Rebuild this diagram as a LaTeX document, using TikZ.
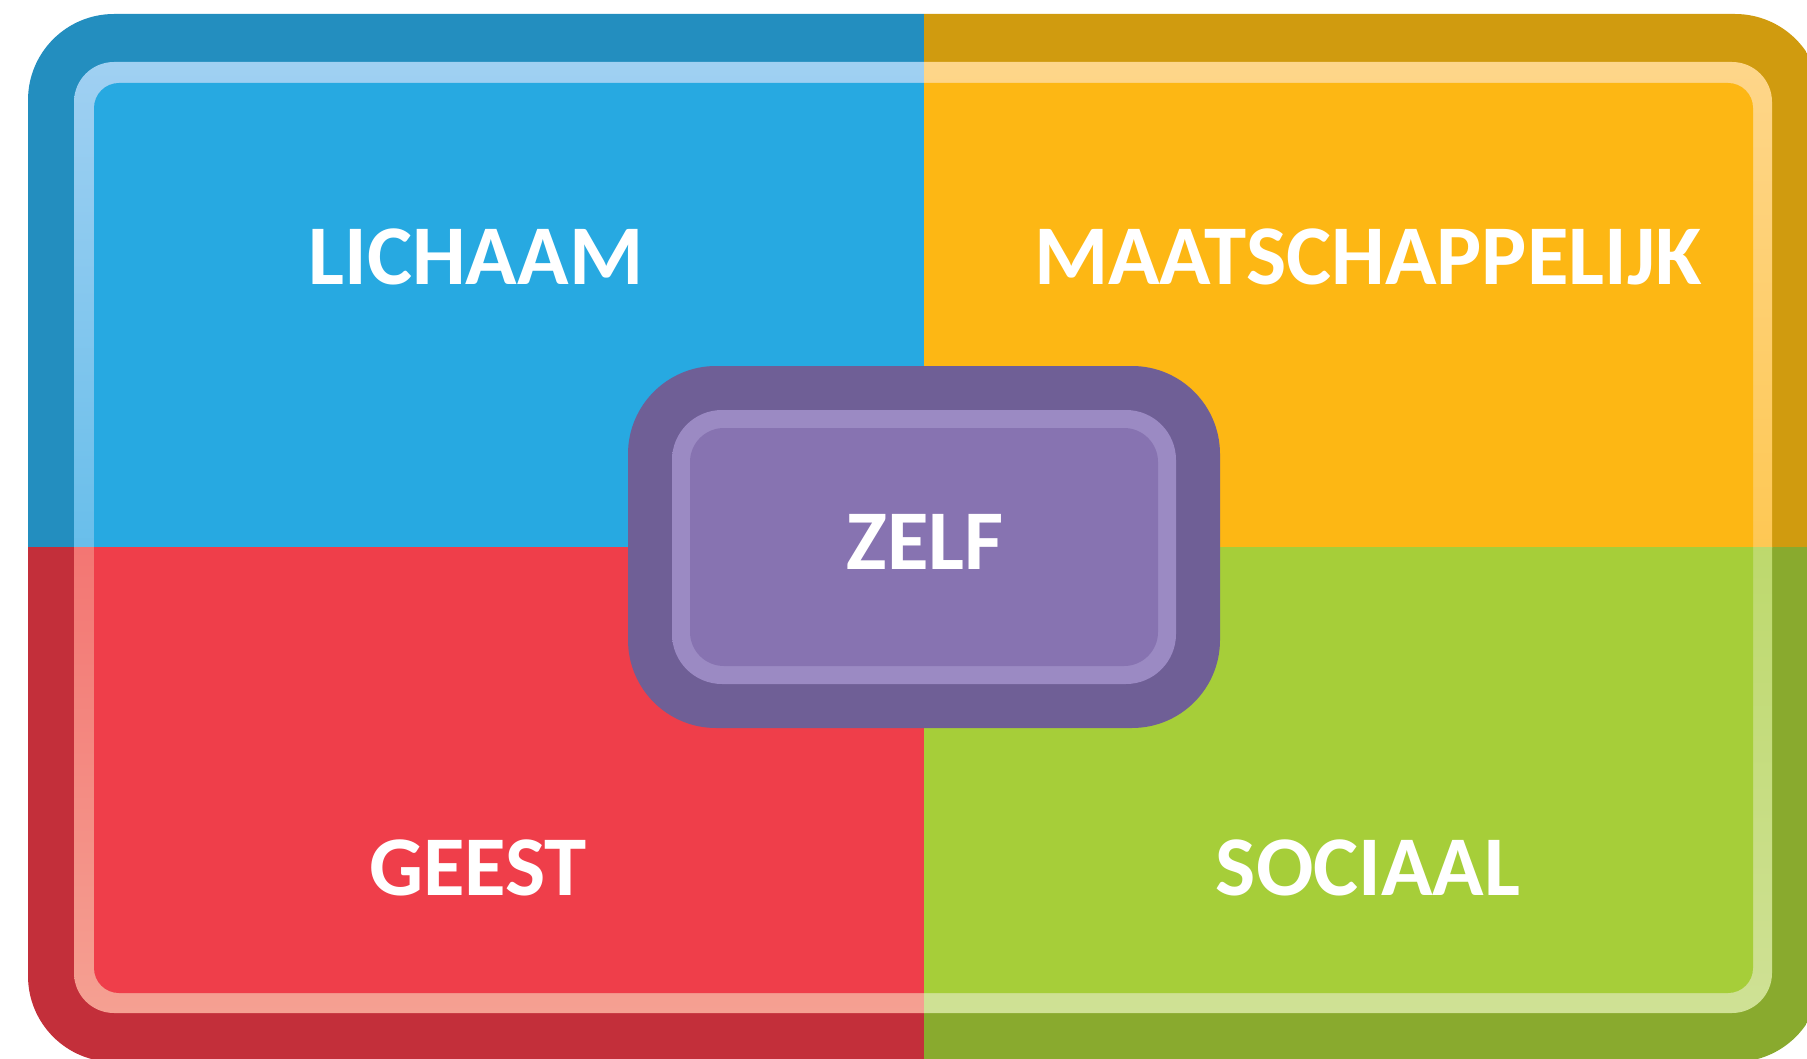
\documentclass[tikz,border=0pt]{standalone}
\usepackage{fontspec}
\setmainfont{Carlito}
\definecolor{bluebase}{HTML}{27A9E1}
\definecolor{bluedark}{HTML}{238EBF}
\definecolor{bluelight}{HTML}{A0D0F2}
\definecolor{bluemid}{HTML}{33ADE3}
\definecolor{yelbase}{HTML}{FDB714}
\definecolor{yeldark}{HTML}{D09B0F}
\definecolor{yellight}{HTML}{FED68A}
\definecolor{yelmid}{HTML}{FDBA20}
\definecolor{redbase}{HTML}{EF3E4A}
\definecolor{reddark}{HTML}{C32F3A}
\definecolor{redlight}{HTML}{F5A092}
\definecolor{redmid}{HTML}{F04A52}
\definecolor{grnbase}{HTML}{A6CE39}
\definecolor{grndark}{HTML}{89AA2E}
\definecolor{grnlight}{HTML}{CFE195}
\definecolor{grnmid}{HTML}{ABD043}
\definecolor{purdark}{HTML}{6F5F96}
\definecolor{purlight}{HTML}{9B8AC3}
\definecolor{purmid}{HTML}{8A76B5}
\definecolor{purbase}{HTML}{8773B1}
\tikzset{
  lbl/.style={text=white, inner sep=0pt, anchor=base, font=\fontsize{85}{100}\selectfont\bfseries}
}
\begin{document}
\begin{tikzpicture}[x=1pt,y=-1pt]
\useasboundingbox (0,0) rectangle (1807,1059);
\clip (0,0) rectangle (1807,1059);
% outer dark frame
\begin{scope}
  \clip[rounded corners=86pt] (28,14) rectangle (1821,1062);
  \fill[bluedark] (0,0) rectangle (924,547);
  \fill[yeldark] (924,0) rectangle (1830,547);
  \fill[reddark] (0,547) rectangle (924,1070);
  \fill[grndark] (924,547) rectangle (1830,1070);
\end{scope}
% light band, per quadrant
\begin{scope}
  \clip (0,0) rectangle (924,547);
  \shade[top color=bluelight, middle color=bluemid, bottom color=bluemid, rounded corners=40pt] (74,62) rectangle (1772,1013);
  \fill[bluebase, rounded corners=25pt] (94,83) rectangle (1753,993);
\end{scope}
\begin{scope}
  \clip (924,0) rectangle (1807,547);
  \shade[top color=yellight, middle color=yelmid, bottom color=yelmid, rounded corners=40pt] (74,62) rectangle (1772,1013);
  \fill[yelbase, rounded corners=25pt] (94,83) rectangle (1753,993);
\end{scope}
\begin{scope}
  \clip (0,547) rectangle (924,1059);
  \shade[top color=redmid, middle color=redmid, bottom color=redlight, rounded corners=40pt] (74,62) rectangle (1772,1013);
  \fill[redbase, rounded corners=25pt] (94,83) rectangle (1753,993);
\end{scope}
\begin{scope}
  \clip (924,547) rectangle (1807,1059);
  \shade[top color=grnmid, middle color=grnmid, bottom color=grnlight, rounded corners=40pt] (74,62) rectangle (1772,1013);
  \fill[grnbase, rounded corners=25pt] (94,83) rectangle (1753,993);
\end{scope}
% centre box
\fill[purdark, rounded corners=88pt] (628,366) rectangle (1220,728);
\shade[top color=purlight, middle color=purmid, bottom color=purlight, rounded corners=50pt] (672,410) rectangle (1176,684);
\fill[purbase, rounded corners=34pt] (690,428) rectangle (1158,666);
% labels
\node[lbl] (lichaam) at (476,285) {LICHAAM};
\node[lbl] (maat) at (1368,285) {MAATSCHAPPELIJK};
\node[lbl] (geest) at (478,895) {GEEST};
\node[lbl] (sociaal) at (1368,895) {SOCIAAL};
\node[lbl] (zelf) at (925,569) {ZELF};
\end{tikzpicture}
\end{document}
